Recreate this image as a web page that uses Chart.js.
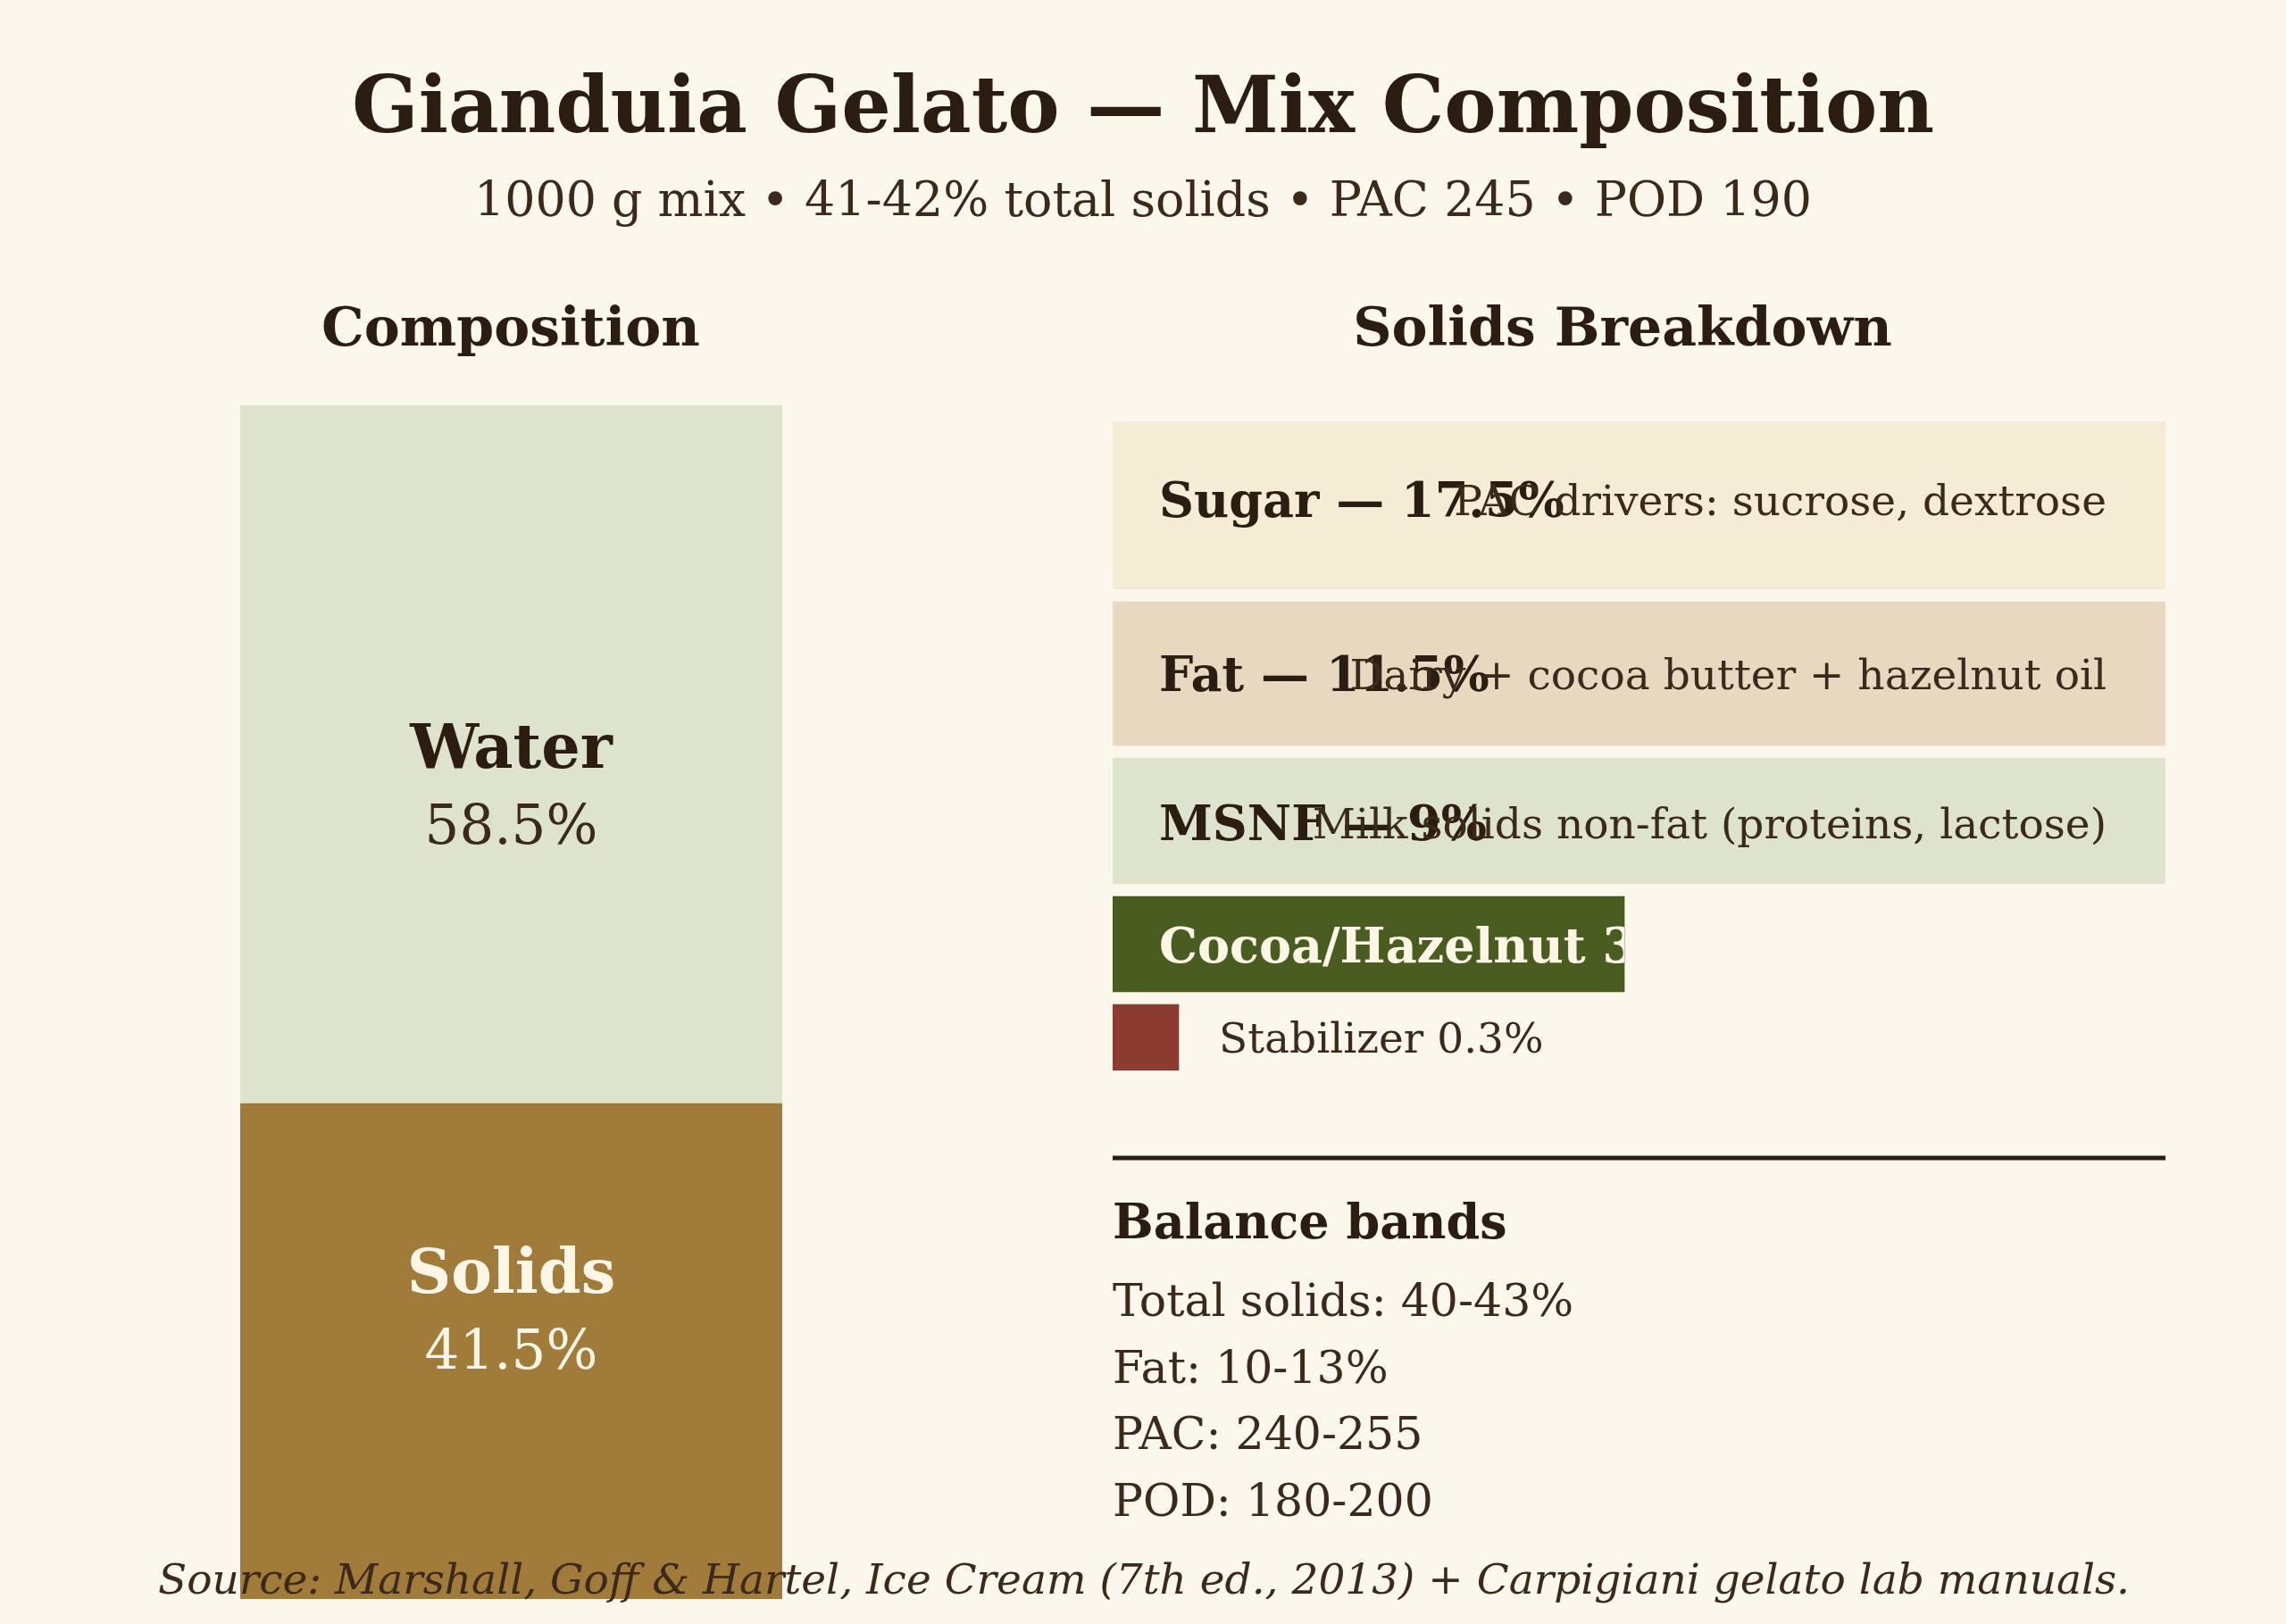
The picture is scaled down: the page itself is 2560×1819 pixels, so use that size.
<!DOCTYPE html>
<html>
<head>
<meta charset="utf-8">
<script src="https://cdn.jsdelivr.net/npm/chart.js@4.4.1/dist/chart.umd.min.js"></script>
<style>
html, body { margin: 0; padding: 0; background: #fcf7ec; }
#wrap { position: relative; width: 2560px; height: 1819px; overflow: hidden; }
#wrap canvas { position: absolute; left: 0; top: 0; }
</style>
</head>
<body>
<div id="wrap">
  <canvas id="leftChart" width="2560" height="1819"></canvas>
  <canvas id="rightChart" width="2560" height="1819"></canvas>
</div>
<script>
// ---------- DATA ----------
const compCategories = ['Water', 'Solids'];
const compValues = [58.5, 41.5];

const solidsCategories = ['Sugar', 'Fat', 'MSNF', 'Cocoa/Hazelnut', 'Stabilizer'];
const solidsValues = [17.5, 11.5, 9, 3.2, 0.3];
const solidsLabels = ['Sugar — 17.5%', 'Fat — 11.5%', 'MSNF — 9%', 'Cocoa/Hazelnut 3.2%', 'Stabilizer 0.3%'];
const solidsNotes = ['PAC drivers: sucrose, dextrose', 'Dairy + cocoa butter + hazelnut oil', 'Milk solids non-fat (proteins, lactose)', '', ''];

const bandTitle = 'Balance bands';
const bandLabels = ['Total solids: 40-43%', 'Fat: 10-13%', 'PAC: 240-255', 'POD: 180-200'];

const titleText = 'Gianduia Gelato — Mix Composition';
const subtitleText = '1000 g mix • 41-42% total solids • PAC 245 • POD 190';
const leftHeader = 'Composition';
const rightHeader = 'Solids Breakdown';
const sourceText = 'Source: Marshall, Goff & Hartel, Ice Cream (7th ed., 2013) + Carpigiani gelato lab manuals.';

// ---------- STYLE / LAYOUT ----------
const FONT = '"DejaVu Serif", serif';
const DARK = '#2b1d12';
const MID = '#3b2a1b';
const CREAM = '#fdf6e6';
const compColors = { Water: '#dde3cd', Solids: '#a07b3a' };
const compTextColors = { Water: [DARK, MID], Solids: [CREAM, CREAM] };
const solidsColors = ['#f5ecd6', '#e8d8bf', '#dde3cd', '#4a5d20', '#8b3b2f'];
const solidsTextColors = [DARK, DARK, DARK, CREAM, MID];
const rowHeights = [188, 161, 141, 107, 74];
const rowTextShift = [-6, 0, 2, 1, 0];
const rowGap = 14;
const W = 2560, H = 1819;

// row centres (layout units = pixels down from top of panel)
const rowCenters = [];
{
  let acc = 0;
  rowHeights.forEach((h, i) => { rowCenters.push(acc + h / 2); acc += h + rowGap; });
}
const panelHeight = rowHeights.reduce((a, b) => a + b, 0) + rowGap * (rowHeights.length - 1);

// ---------- LEFT: stacked composition bar ----------
const leftLabelPlugin = {
  id: 'leftLabels',
  afterDatasetsDraw(chart) {
    const ctx = chart.ctx;
    ctx.save();
    ctx.textAlign = 'center';
    ctx.textBaseline = 'alphabetic';
    chart.data.datasets.forEach((ds, di) => {
      const el = chart.getDatasetMeta(di).data[0];
      const cx = el.x;
      const name = ds.label;
      const val = ds.data[0];
      const top = Math.min(el.y, el.base), bot = Math.max(el.y, el.base);
      const mid = (top + bot) / 2;
      const off = name === 'Water' ? 15 : -66;
      ctx.fillStyle = compTextColors[name][0];
      ctx.font = 'bold 68.5px ' + FONT;
      ctx.fillText(name, cx, mid + off);
      ctx.fillStyle = compTextColors[name][1];
      ctx.font = '61px ' + FONT;
      ctx.fillText(val + '%', cx, mid + off + 85);
    });
    ctx.restore();
  }
};

new Chart(document.getElementById('leftChart'), {
  type: 'bar',
  data: {
    labels: ['Mix'],
    datasets: [
      { label: compCategories[1], data: [compValues[1]], backgroundColor: compColors.Solids },
      { label: compCategories[0], data: [compValues[0]], backgroundColor: compColors.Water }
    ]
  },
  options: {
    responsive: false,
    devicePixelRatio: 1,
    animation: false,
    layout: { padding: { left: 269, right: W - 876, top: 454, bottom: H - 1791 } },
    datasets: { bar: { barPercentage: 1, categoryPercentage: 1, borderWidth: 0 } },
    scales: {
      x: { display: false, stacked: true },
      y: { display: false, stacked: true, min: 0, max: 100 }
    },
    plugins: { legend: { display: false }, tooltip: { enabled: false } }
  },
  plugins: [leftLabelPlugin]
});

// ---------- RIGHT: solids breakdown ----------
const rightPlugin = {
  id: 'rightText',
  afterDatasetsDraw(chart) {
    const ctx = chart.ctx;
    const area = chart.chartArea;
    ctx.save();
    ctx.textBaseline = 'alphabetic';
    chart.data.datasets.forEach((ds, i) => {
      const el = chart.getDatasetMeta(i).data[0];
      const x0 = el.base;
      const x1 = Math.min(el.x, area.right);
      const yc = el.y;
      const h = el.height;
      const ty = yc + rowTextShift[i];
      if (i < solidsValues.length - 1) {
        ctx.save();
        ctx.beginPath();
        ctx.rect(x0, yc - h / 2, x1 - x0, h);
        ctx.clip();
        ctx.fillStyle = solidsTextColors[i];
        ctx.font = 'bold 54px ' + FONT;
        ctx.textAlign = 'left';
        ctx.fillText(solidsLabels[i], x0 + 52, ty + 19);
        if (solidsNotes[i]) {
          ctx.fillStyle = MID;
          ctx.font = '47px ' + FONT;
          ctx.textAlign = 'right';
          ctx.fillText(solidsNotes[i], area.right - 66, ty + 17);
        }
        ctx.restore();
      } else {
        ctx.fillStyle = solidsTextColors[i];
        ctx.font = '47px ' + FONT;
        ctx.textAlign = 'left';
        ctx.fillText(solidsLabels[i], x0 + 119, ty + 17);
      }
    });
    ctx.restore();
  },
  afterDraw(chart) {
    const ctx = chart.ctx;
    ctx.save();
    ctx.textBaseline = 'alphabetic';
    ctx.textAlign = 'center';
    ctx.fillStyle = DARK;
    ctx.font = 'bold 87.5px ' + FONT;
    ctx.fillText(titleText, 1280, 148);
    ctx.fillStyle = MID;
    ctx.font = '53.8px ' + FONT;
    ctx.fillText(subtitleText, 1280, 242);
    ctx.fillStyle = DARK;
    ctx.font = 'bold 60px ' + FONT;
    ctx.fillText(leftHeader, 572, 387);
    ctx.fillText(rightHeader, 1817, 387);
    // divider
    ctx.strokeStyle = DARK;
    ctx.lineWidth = 5;
    ctx.beginPath();
    ctx.moveTo(1246, 1297);
    ctx.lineTo(2425, 1297);
    ctx.stroke();
    // balance bands
    ctx.textAlign = 'left';
    ctx.font = 'bold 54px ' + FONT;
    ctx.fillStyle = DARK;
    ctx.fillText(bandTitle, 1246, 1387);
    ctx.font = '50.5px ' + FONT;
    ctx.fillStyle = MID;
    bandLabels.forEach((t, i) => ctx.fillText(t, 1246, 1474 + i * 74.5));
    // source
    ctx.textAlign = 'center';
    ctx.font = 'italic 47px ' + FONT;
    ctx.fillStyle = MID;
    ctx.fillText(sourceText, 1281, 1785);
    ctx.restore();
  }
};

new Chart(document.getElementById('rightChart'), {
  type: 'bar',
  data: {
    labels: solidsCategories,
    datasets: solidsCategories.map((c, i) => ({
      label: c,
      data: [{ x: solidsValues[i], y: rowCenters[i] }],
      backgroundColor: solidsColors[i],
      barThickness: rowHeights[i],
      grouped: false,
      minBarLength: 74,
      borderWidth: 0,
      clip: 0
    }))
  },
  options: {
    indexAxis: 'y',
    responsive: false,
    devicePixelRatio: 1,
    animation: false,
    layout: { padding: { left: 1246, right: W - 2425, top: 472, bottom: H - 1199 } },
    scales: {
      x: { type: 'linear', display: false, min: 0, max: 6.584 },
      y: { type: 'linear', display: false, offset: false, min: 0, max: panelHeight, reverse: true }
    },
    plugins: { legend: { display: false }, tooltip: { enabled: false } }
  },
  plugins: [rightPlugin]
});
</script>
</body>
</html>
